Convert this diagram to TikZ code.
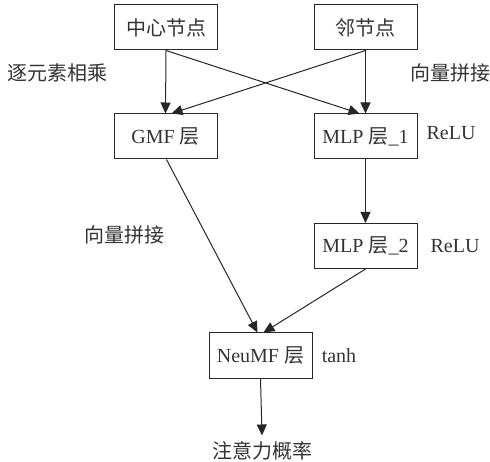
\documentclass[tikz,border=0pt]{standalone}
\usepackage{fontspec}
\setmainfont{Liberation Serif}
\newfontfamily\cjk{Noto Sans CJK SC}
\usetikzlibrary{arrows.meta}
\definecolor{ink}{HTML}{262626}
\definecolor{txt}{HTML}{333333}
\begin{document}
\begin{tikzpicture}[x=1pt,y=-1pt,
  box/.style={draw=ink,line width=1pt,minimum width=103pt,minimum height=45pt,inner sep=0pt,text=txt,font=\fontsize{20}{24}\selectfont},
  lab/.style={text=txt,inner sep=0pt,font=\fontsize{20}{24}\selectfont},
  arr/.style={draw=ink,line width=1pt,-{Triangle[length=11pt,width=10pt]}}]
\useasboundingbox (0,0) rectangle (490,462);
\node[box] (c) at (166,27.5) {\cjk 中心节点};
\node[box] (n) at (365.5,27.5) {\cjk 邻节点};
\node[box] (g) at (165.5,136.5) {GMF {\cjk 层}};
\node[box] (m1) at (365.5,136.5) {MLP {\cjk 层}\_1};
\node[box] (m2) at (365.5,246) {MLP {\cjk 层}\_2};
\node[box] (u) at (260.5,355.5) {NeuMF {\cjk 层}};
\node[lab] (p) at (262,451) {\cjk 注意力概率};
\node[lab] (l1) at (58,73) {\cjk 逐元素相乘};
\node[lab] (l2) at (450,73) {\cjk 向量拼接};
\node[lab] (r1) at (451,133) {ReLU};
\node[lab] (l3) at (124,235) {\cjk 向量拼接};
\node[lab] (r2) at (455,246) {ReLU};
\node[lab] (t) at (339,356) {tanh};
\draw[arr] (c.south) -- (g.north);
\draw[arr] (c.south) -- ([xshift=-6pt]m1.north);
\draw[arr] (n.south) -- ([xshift=6pt]g.north);
\draw[arr] (n.south) -- (m1.north);
\draw[arr] (m1.south) -- (m2.north);
\draw[arr] ([xshift=1pt]g.south) -- ([xshift=-3pt]u.north);
\draw[arr] (m2.south) -- ([xshift=3pt]u.north);
\draw[arr] (u.south) -- ([yshift=6pt]p.north);
\end{tikzpicture}
\end{document}
